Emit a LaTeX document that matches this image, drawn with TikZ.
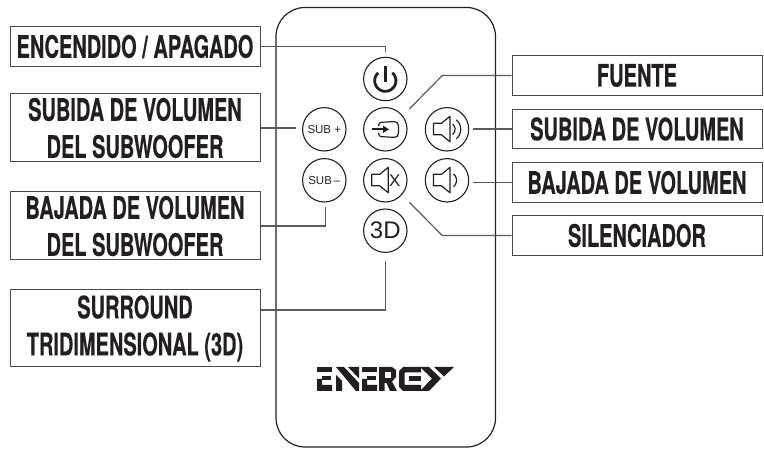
\documentclass[tikz,border=0pt]{standalone}
\usepackage{fontspec}
\setmainfont{Liberation Sans}
\newfontfamily\labfont{TeX Gyre Heros}[FakeStretch=0.645,BoldFeatures={FakeBold=0.35}]
\tikzset{
  lab/.style={draw=boxc,line width=1pt,minimum width=250pt,inner sep=0pt,align=center,
    font=\labfont\bfseries\fontsize{31}{37}\selectfont,text=ink},
  lab1/.style={lab,minimum height=39.5pt},
  lab2/.style={lab,minimum height=68pt},
  lab3/.style={lab,minimum height=77pt},
  btn/.style={circle,draw=ink,line width=1.1pt,minimum size=43.4pt,inner sep=0pt,text=ink},
  conn/.style={draw=linec,line width=1.2pt},
  icon/.style={draw=ink,line width=1.2pt,line join=round},
  logo/.style={fill=ink,draw=none}
}
\definecolor{ink}{HTML}{231F20}
\definecolor{boxc}{HTML}{4A4A4A}
\definecolor{linec}{HTML}{5A5A5A}
\newcommand{\speakerat}[2]{%
  \draw[icon] (#1-13.5,#2-6)--(#1-5.5,#2-6)--(#1+3,#2-13)--(#1+3,#2+12.5)--(#1-5.5,#2+5.5)--(#1-13.5,#2+5.5)--cycle;}
\begin{document}
\begin{tikzpicture}[x=1pt,y=-1pt]
\useasboundingbox (0,0) rectangle (764,449);
% remote body
\draw[draw=ink,line width=1.2pt,rounded corners=29pt] (276,7.5) rectangle (495.5,447);
% labels
\node[lab1] (enc) at (135,46.5) {ENCENDIDO / APAGADO};
\node[lab2] (subp) at (135,128) {SUBIDA DE VOLUMEN\\DEL SUBWOOFER};
\node[lab2] (subm) at (135,226) {BAJADA DE VOLUMEN\\DEL SUBWOOFER};
\node[lab3] (sur) at (135,328.5) {SURROUND\\TRIDIMENSIONAL (3D)};
\node[lab1] (fue) at (637,75.5) {FUENTE};
\node[lab1] (vup) at (637,129) {SUBIDA DE VOLUMEN};
\node[lab1] (vdn) at (637,182.5) {BAJADA DE VOLUMEN};
\node[lab1] (sil) at (637,235.5) {SILENCIADOR};
% buttons
\node[btn] (pow) at (385.3,79) {};
\node[btn] (src) at (385.3,129.3) {};
\node[btn,font=\fontsize{11.5}{13}\selectfont] (sp) at (324.3,129.3) {SUB +};
\node[btn] (vp) at (447,129.3) {};
\node[btn,font=\fontsize{11.5}{13}\selectfont] (sm) at (324.3,180.3) {SUB\,–};
\node[btn] (mute) at (385.3,180.3) {};
\node[btn] (vm) at (447,180.3) {};
\node[btn,font=\fontsize{24}{25}\selectfont] (td) at (385.3,230.7) {3D};
% connector helpers
\coordinate (spend) at (295.7,128);
\coordinate (vpend) at (472.7,129);
\coordinate (vmend) at (472.7,182.5);
\coordinate (fuebend) at (442.3,75.5);
\coordinate (silbend) at (442.3,235.5);
\coordinate (srcend) at (409.3,109);
\coordinate (muteend) at (409.3,202.3);
\coordinate (smend) at (325.3,207.3);
\coordinate (tdend) at (385.3,261);
\coordinate (powend) at (385.3,51.7);
% connectors
\draw[conn] (enc.east) -| (powend);
\draw[conn] (subp.east) -- (spend);
\draw[conn] (subm.east) -| (smend);
\draw[conn] (sur.east |- 0,310) -| (tdend);
\draw[conn] (fue.west) -- (fuebend) -- (srcend);
\draw[conn] (vup.west) -- (vpend);
\draw[conn] (vdn.west) -- (vmend);
\draw[conn] (sil.west) -- (silbend) -- (muteend);
% power icon
\draw[draw=ink,line width=2.8pt] plot[domain=-48:228,samples=50] ({385.3+10.6*cos(\x)},{80.7+10.6*sin(\x)});
\draw[draw=ink,line width=2.8pt] (385.3,66.5) -- (385.3,82);
% source icon
\draw[icon,rounded corners=2.5pt] (378.7,125.8)--(378.7,122.5)--(396,121.5)--(398.5,124)--(398.5,135)--(396,137.5)--(378.7,136.5)--(378.7,132.8);
\draw[draw=ink,line width=1.6pt] (372,129.3)--(386,129.3);
\fill[ink] (389,129.3)--(383,125.6)--(383,133)--cycle;
% speakers
\speakerat{447}{129.3}
\speakerat{447}{180.3}
\speakerat{385.3}{180.3}
\draw[icon] plot[domain=-50:50,samples=15] ({448.3+6.7*cos(\x)},{129.3+6.7*sin(\x)});
\draw[icon] plot[domain=-50:50,samples=15] ({448.3+12.4*cos(\x)},{129.3+12.4*sin(\x)});
\draw[icon] plot[domain=-50:50,samples=15] ({448.3+8.2*cos(\x)},{180.3+8.2*sin(\x)});
\node[inner sep=0pt,text=ink,font=\fontsize{17}{19}\selectfont] (mx) at (394.7,180.3) {X};
% logo: E
\fill[logo] (317,367) rectangle (332,372.5);
\fill[logo] (322,376.5) rectangle (331,380.5);
\fill[logo] (317,379) -- (322,379) -- (322,385) -- (332,385) -- (332,391) -- (317,391) -- cycle;
% N
\fill[logo] (336,391)--(336,375)--(342,381)--(342,391)--cycle;
\fill[logo] (336,367)--(344,367)--(359,383)--(359,391)--(356,391)--cycle;
\fill[logo] (348,367)--(359,367)--(359,378.5)--cycle;
% E
\fill[logo] (362,367) rectangle (377,372.5);
\fill[logo] (367,376.5) rectangle (376,380.5);
\fill[logo] (362,379) -- (367,379) -- (367,385) -- (377,385) -- (377,391) -- (362,391) -- cycle;
% R
\fill[logo] (379,391)--(379,367)--(392,367)--(396,370)--(396,377)--(392,381.5)--(397,391)--(390,391)--(386.5,383)--(384.5,383)--(384.5,391)--cycle;
\fill[white] (384.5,372.5) rectangle (391,378);
% G
\fill[logo] (399,371)--(403,367)--(421,367)--(421,372.5)--(405,372.5)--(404.5,373)--(404.5,384.5)--(405,385)--(421,385)--(421,391)--(403,391)--(399,387)--cycle;
\fill[logo] (409,376.5) rectangle (421,381);
% Y
\fill[logo] (420,367)--(429,367)--(441,378.5)--(429,391)--(420,391)--(432,378.5)--cycle;
\fill[logo] (434,367)--(454,367)--(444,376.5)--cycle;
\end{tikzpicture}
\end{document}
